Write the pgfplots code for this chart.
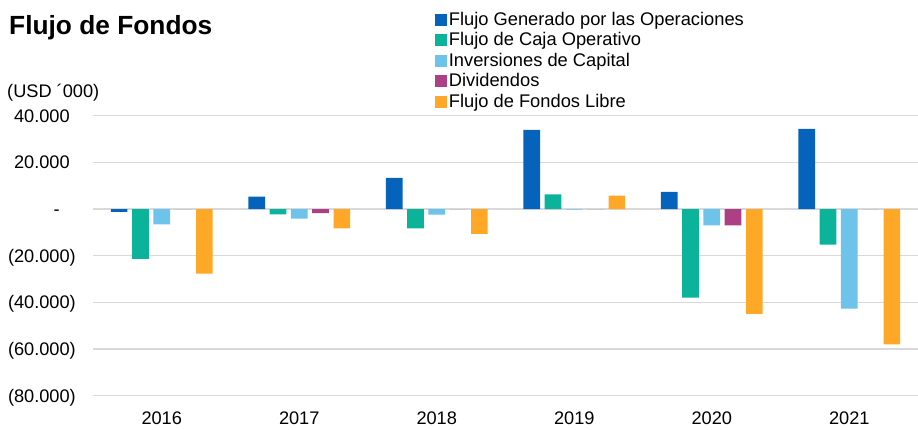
\documentclass[border=0pt]{standalone}
\usepackage{pgfplots}
\pgfplotsset{compat=1.18}
\usepackage{fontspec}
\setmainfont{Liberation Sans}
\definecolor{cFGO}{RGB}{5,99,187}
\definecolor{cFCO}{RGB}{11,179,154}
\definecolor{cCapex}{RGB}{110,195,234}
\definecolor{cDiv}{RGB}{173,63,132}
\definecolor{cFFL}{RGB}{255,168,39}
\definecolor{gridgray}{RGB}{217,217,217}
\begin{document}
\begin{tikzpicture}
\path[use as bounding box] (-93pt,-34.3pt) rectangle (825pt,395.7pt);
\begin{axis}[
    at={(0pt,0pt)}, anchor=south west,
    scale only axis, width=825pt, height=280pt,
    ybar=4.6pt, bar width=16.7pt,
    xmin=-0.5, xmax=5.5, ymin=-80000, ymax=40000,
    scaled y ticks=false,
    xtick={0,...,5}, xticklabels={2016,2017,2018,2019,2020,2021},
    ytick={-80000,-60000,-40000,-20000,0,20000,40000},
    yticklabels={(80.000),(60.000),(40.000),(20.000),-\hphantom{0)},20.000\hphantom{)},40.000\hphantom{)}},
    /pgf/number format/assume math mode=true,
    ticklabel style={font=\fontsize{18.2}{21}\selectfont},
    xticklabel style={anchor=base, inner sep=0pt, yshift=-25pt},
    yticklabel style={anchor=base east, inner sep=0pt, xshift=-17pt, yshift=-6.5pt},
    axis line style={draw=none},
    major tick style={draw=none},
    ymajorgrids, major grid style={gridgray, line width=1.2pt},
    legend cell align=left,
    legend style={at={(0.4137,1.3693)}, anchor=north west, draw=none, fill=none,
        inner sep=0pt, font=\fontsize{18.3}{21}\selectfont, row sep=0pt,
        nodes={inner sep=0pt, text height=13pt, text depth=7.5pt},
        /tikz/every odd column/.style={column sep=2pt}},
    legend image code/.code={\fill[#1,draw=none] (0pt,-3.2pt) rectangle (12.4pt,9.2pt);},
]
\addplot[fill=cFGO, draw=none] coordinates {(0,-1200) (1,5300) (2,13400) (3,33900) (4,7300) (5,34400)};
\addplot[fill=cFCO, draw=none] coordinates {(0,-21400) (1,-2300) (2,-8300) (3,6300) (4,-38000) (5,-15300)};
\addplot[fill=cCapex, draw=none] coordinates {(0,-6600) (1,-4100) (2,-2400) (3,-300) (4,-7000) (5,-42700)};
\addplot[fill=cDiv, draw=none] coordinates {(0,0) (1,-1800) (2,0) (3,0) (4,-7000) (5,0)};
\addplot[fill=cFFL, draw=none] coordinates {(0,-27700) (1,-8300) (2,-10600) (3,5700) (4,-44900) (5,-58000)};
\legend{Flujo Generado por las Operaciones, Flujo de Caja Operativo, Inversiones de Capital, Dividendos, Flujo de Fondos Libre}
\end{axis}
\node[anchor=base west, inner sep=0pt, font=\bfseries\fontsize{26.3}{30}\selectfont] at (-84pt,361pt) {Flujo de Fondos};
\node[anchor=base west, inner sep=0pt, font=\fontsize{18.2}{21}\selectfont] at (-86pt,297.7pt) {(USD ´000)};
\end{tikzpicture}
\end{document}
